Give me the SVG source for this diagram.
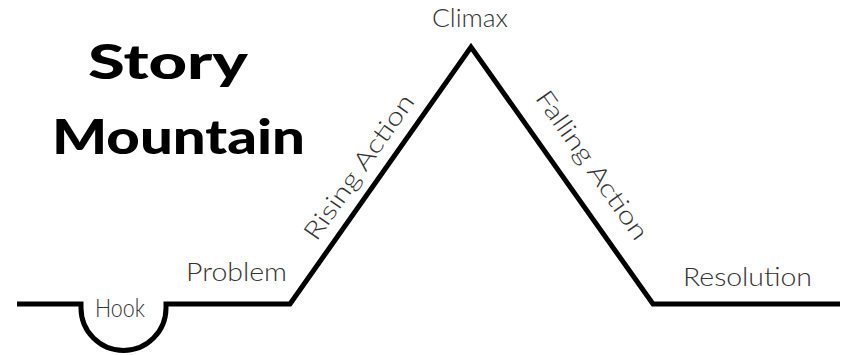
<svg xmlns="http://www.w3.org/2000/svg" width="846" height="355" viewBox="0 0 846 355">
<style>
.lbl{font-family:"Lato","Open Sans","Liberation Sans",sans-serif;font-weight:300;font-size:25px;fill:#333;}
.title{font-family:"Lato","Liberation Sans",sans-serif;font-weight:900;font-size:47px;fill:#000;}
.line{fill:none;stroke:#000;stroke-width:5;stroke-linejoin:miter;}
</style>
<rect width="846" height="355" fill="#fff"/>
<g id="connectors">
<path class="line" d="M17 304 H81 V308 A42.5 42.5 0 0 0 166 308 V304 H290 L471 47 L653 304 H840"/>
</g>
<g id="title"><text class="title" x="88" y="79" textLength="160" lengthAdjust="spacingAndGlyphs">Story</text><text class="title" x="52" y="154" textLength="253" lengthAdjust="spacingAndGlyphs">Mountain</text></g>
<g id="climax"><text class="lbl" x="432" y="27" textLength="76" lengthAdjust="spacingAndGlyphs">Climax</text></g>
<g id="hook"><text class="lbl" x="95" y="317" textLength="50" lengthAdjust="spacingAndGlyphs">Hook</text></g>
<g id="problem"><text class="lbl" x="186" y="281" textLength="101" lengthAdjust="spacingAndGlyphs">Problem</text></g>
<g id="rising"><text class="lbl" transform="translate(366,172) rotate(-54.9)" x="-86" textLength="172" lengthAdjust="spacingAndGlyphs">Rising Action</text></g>
<g id="falling"><text class="lbl" transform="translate(585,170) rotate(54.9)" x="-88" textLength="176" lengthAdjust="spacingAndGlyphs">Falling Action</text></g>
<g id="resolution"><text class="lbl" x="683" y="286" textLength="129" lengthAdjust="spacingAndGlyphs">Resolution</text></g>
</svg>
